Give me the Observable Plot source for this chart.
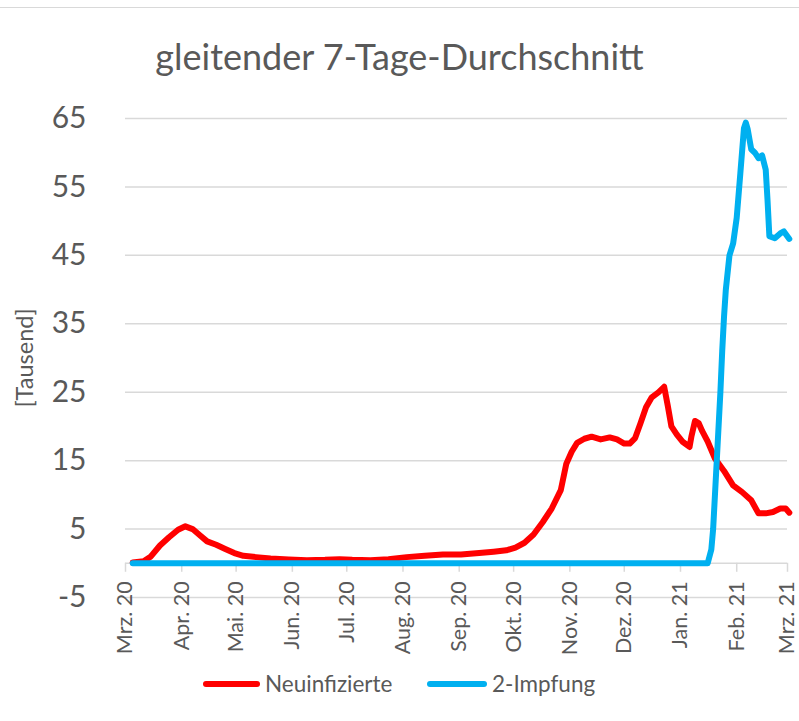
<!DOCTYPE html>
<html>
<head>
<meta charset="utf-8">
<script src="https://cdn.jsdelivr.net/npm/d3@7"></script>
<script src="https://cdn.jsdelivr.net/npm/@observablehq/plot@0.6"></script>
<style>
  body { margin: 0; background: #fff; font-family: Lato, "Open Sans", sans-serif; }
  #wrap { position: relative; width: 799px; height: 721px; overflow: hidden; background: #fff; }
  #topline { position: absolute; left: 0; top: 7px; width: 799px; height: 0; border-top: 1.5px solid #d9d9d9; }
  #title { position: absolute; left: 0; top: 34px; width: 799px; text-align: center; font-size: 36px; color: #595959; white-space: nowrap; }
  #chart { position: absolute; left: 0; top: 100px; }
  #legend { position: absolute; left: 0; top: 670px; width: 799px; height: 28px; font-size: 22.5px; color: #595959; }
  .sw { position: absolute; top: 11px; height: 6px; border-radius: 3px; }
  .lt { position: absolute; top: 0; line-height: 28px; }
</style>
</head>
<body>
<div id="wrap">
  <div id="topline"></div>
  <div id="title">gleitender 7-Tage-Durchschnitt</div>
  <div id="chart"></div>
  <div id="legend">
    <div class="sw" style="left:203px;width:57px;background:#ff0000"></div>
    <div class="lt" style="left:265px">Neuinfizierte</div>
    <div class="sw" style="left:427px;width:60px;background:#00b0f0"></div>
    <div class="lt" style="left:492px">2-Impfung</div>
  </div>
</div>
<script>
// Month tick positions and labels
const monthDates = ["2020-03-01","2020-04-01","2020-05-01","2020-06-01","2020-07-01","2020-08-01","2020-09-01","2020-10-01","2020-11-01","2020-12-01","2021-01-01","2021-02-01","2021-03-01"];
const monthLabels = ["Mrz. 20","Apr. 20","Mai. 20","Jun. 20","Jul. 20","Aug. 20","Sep. 20","Okt. 20","Nov. 20","Dez. 20","Jan. 21","Feb. 21","Mrz. 21"];
const yTicks = [-5, 5, 15, 25, 35, 45, 55, 65];

// Neuinfizierte (7-day average, thousands)
const neuDates = ["2020-03-05","2020-03-11","2020-03-15","2020-03-20","2020-03-25","2020-03-30","2020-04-03","2020-04-07","2020-04-11","2020-04-15","2020-04-20","2020-04-25","2020-04-30","2020-05-05","2020-05-12","2020-05-20","2020-05-30","2020-06-09","2020-06-19","2020-06-27","2020-07-04","2020-07-14","2020-07-24","2020-08-03","2020-08-13","2020-08-23","2020-09-02","2020-09-12","2020-09-20","2020-09-27","2020-10-02","2020-10-07","2020-10-12","2020-10-17","2020-10-22","2020-10-27","2020-10-30","2020-11-02","2020-11-05","2020-11-09","2020-11-13","2020-11-18","2020-11-23","2020-11-27","2020-12-01","2020-12-04","2020-12-07","2020-12-10","2020-12-13","2020-12-16","2020-12-20","2020-12-23","2020-12-25","2020-12-27","2020-12-30","2021-01-02","2021-01-06","2021-01-07","2021-01-09","2021-01-11","2021-01-13","2021-01-16","2021-01-20","2021-01-25","2021-01-30","2021-02-04","2021-02-09","2021-02-13","2021-02-17","2021-02-21","2021-02-25","2021-02-28","2021-03-02"];
const neuValues = [0.1,0.3,1.0,2.6,3.8,4.9,5.4,5.0,4.1,3.2,2.7,2.1,1.5,1.1,0.9,0.7,0.55,0.45,0.5,0.6,0.5,0.45,0.6,0.9,1.1,1.3,1.3,1.5,1.7,1.9,2.3,3.0,4.2,6.0,8.0,10.7,14.5,16.3,17.6,18.2,18.5,18.1,18.4,18.1,17.5,17.5,18.3,20.5,22.8,24.2,25.0,25.8,23.0,20.0,18.8,17.8,17.0,18.5,20.8,20.5,19.3,17.8,15.3,13.5,11.4,10.4,9.2,7.3,7.3,7.5,8.0,8.0,7.4];

// 2-Impfung (7-day average, thousands)
const impfDates = ["2020-03-05","2021-01-16","2021-01-18","2021-01-19","2021-01-21","2021-01-23","2021-01-24","2021-01-25","2021-01-26","2021-01-28","2021-01-30","2021-02-01","2021-02-03","2021-02-05","2021-02-06","2021-02-07","2021-02-09","2021-02-11","2021-02-13","2021-02-15","2021-02-17","2021-02-18","2021-02-19","2021-02-22","2021-02-25","2021-02-27","2021-03-02"];
const impfValues = [0,0,2,5,15,25,31,36,40,45,46.7,50.5,57,63.6,64.4,63.5,60.5,60.0,59.2,59.6,57.5,53,47.8,47.5,48.2,48.5,47.4];

const parse = s => new Date(s + "T00:00:00Z");
const neu = neuDates.map((d, i) => ({date: parse(d), value: neuValues[i]}));
const impf = impfDates.map((d, i) => ({date: parse(d), value: impfValues[i]}));
const months = monthDates.map((d, i) => ({date: parse(d), label: monthLabels[i]}));

const plot = Plot.plot({
  width: 799,
  height: 550,
  marginTop: 18,
  marginBottom: 53,
  marginLeft: 125,
  marginRight: 12,
  style: {fontFamily: "Lato, 'Open Sans', sans-serif", color: "#595959", background: "transparent", overflow: "visible"},
  x: {type: "utc", domain: [parse(monthDates[0]), parse(monthDates[monthDates.length - 1])], axis: null},
  y: {domain: [-5, 65], axis: null},
  marks: [
    Plot.gridY(yTicks, {stroke: "#d9d9d9", strokeOpacity: 1, strokeWidth: 1.5}),
    Plot.axisY(yTicks, {tickSize: 0, tickPadding: 39, fontSize: 30, fill: "#595959", label: null, tickFormat: d => String(d)}),
    Plot.ruleY([0], {stroke: "#d9d9d9", strokeWidth: 1.5}),
    Plot.ruleX(months, {x: "date", y1: 0, y2: 0, insetBottom: -9, stroke: "#d9d9d9", strokeWidth: 1.5}),
    Plot.text(months, {x: "date", y: 0, text: "label", rotate: -90, textAnchor: "end", dy: 18, fontSize: 21.5, fill: "#595959"}),
    Plot.text(["[Tausend]"], {frameAnchor: "left", textAnchor: "middle", dx: -100, rotate: -90, fontSize: 23.5, fill: "#595959"}),
    Plot.line(neu, {x: "date", y: "value", stroke: "#ff0000", strokeWidth: 6, strokeLinejoin: "round", strokeLinecap: "round"}),
    Plot.line(impf, {x: "date", y: "value", stroke: "#00b0f0", strokeWidth: 6, strokeLinejoin: "round", strokeLinecap: "round"})
  ]
});
document.getElementById("chart").appendChild(plot);
</script>
</body>
</html>
